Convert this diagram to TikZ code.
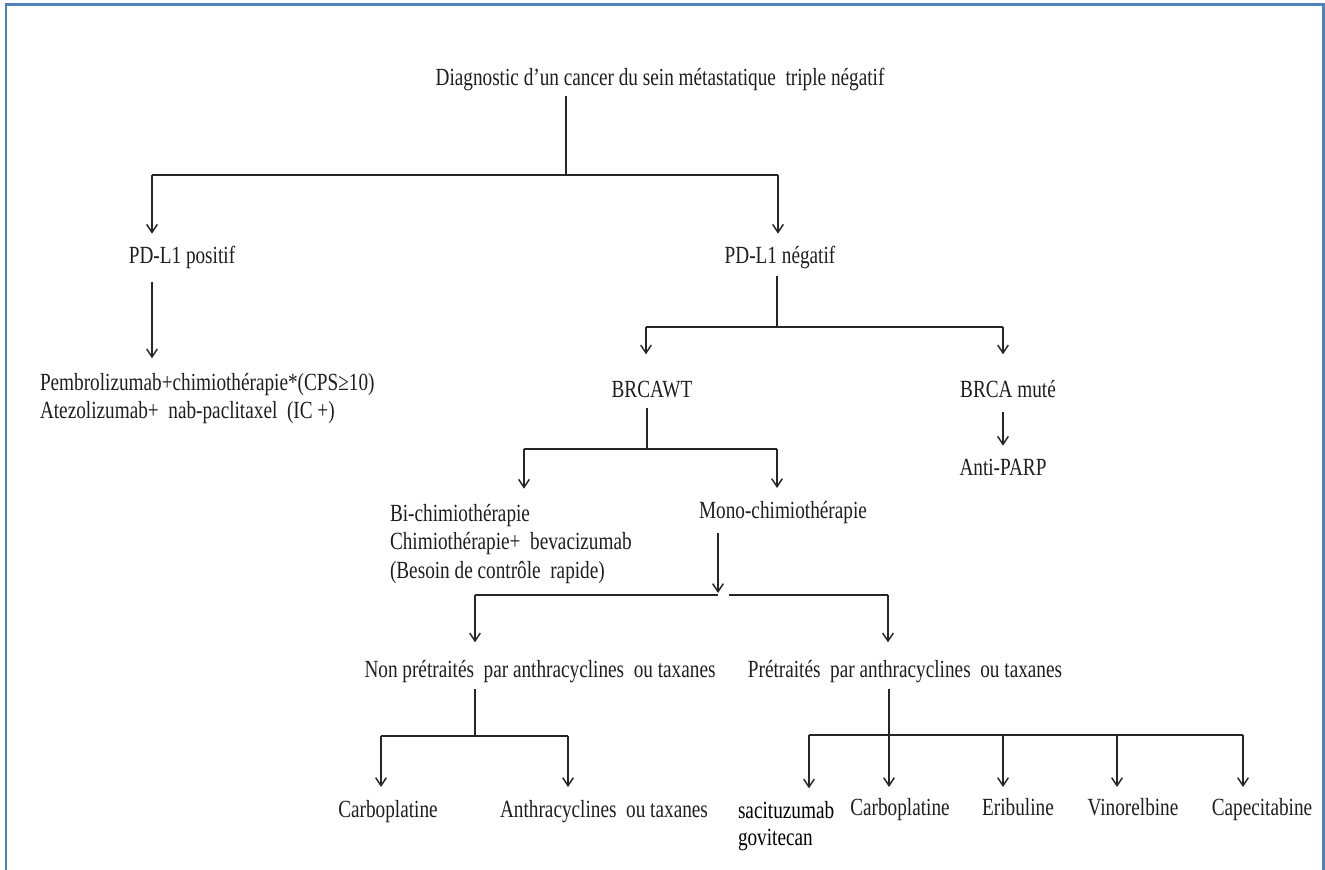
\documentclass[tikz,border=0pt]{standalone}
\usepackage{fontspec}
\setmainfont{Liberation Serif}
\newfontfamily\condfont{Liberation Serif}[FakeStretch=0.78]
\usetikzlibrary{arrows.meta}
\definecolor{framecol}{RGB}{79,129,189}
\definecolor{linecol}{RGB}{38,38,38}
\definecolor{txtcol}{RGB}{30,30,30}
\begin{document}
\begin{tikzpicture}[x=0.75pt,y=-0.75pt,
  lbl/.style={inner sep=0pt, outer sep=0pt, text=txtcol, font=\condfont\fontsize{18.5}{21.5}\selectfont, text height=12pt, text depth=3pt},
  mlbl/.style={inner sep=0pt, outer sep=0pt, text=txtcol, font=\condfont\fontsize{18.5}{21.5}\selectfont, align=left, anchor=north west},
  conn/.style={line width=1.1pt, draw=linecol},
  arr/.style={conn, -{Straight Barb[length=6pt,width=8pt]}}
]
\useasboundingbox (0,0) rectangle (1325,870);
% frame
\draw[line width=1.9pt, framecol] (6,875) -- (6,4.5) -- (1323.5,4.5) -- (1323.5,875);

% nodes
\node[lbl] (title) at (660,80) {Diagnostic d’un cancer du sein métastatique~ triple négatif};
\node[lbl] (pdp) at (182,257) {PD-L1 positif};
\node[lbl] (pdn) at (780,257) {PD-L1 négatif};
\node[mlbl] (pemb) at (40,373) {Pembrolizumab+chimiothérapie*(CPS≥10)\\Atezolizumab+~ nab-paclitaxel~ (IC +)};
\node[lbl] (brcawt) at (652,391) {BRCAWT};
\node[lbl] (brcam) at (1008,391) {BRCA muté};
\node[lbl] (parp) at (1003,469) {Anti-PARP};
\node[mlbl] (bichim) at (390,504) {Bi-chimiothérapie\\Chimiothérapie+~ bevacizumab\\(Besoin de contrôle~ rapide)};
\node[lbl] (mono) at (783,512) {Mono-chimiothérapie};
\node[lbl] (nonpre) at (540,671) {Non prétraités~ par anthracyclines~ ou taxanes};
\node[lbl] (pre) at (905,671) {Prétraités~ par anthracyclines~ ou taxanes};
\node[lbl] (carboA) at (388,811) {Carboplatine};
\node[lbl] (anthra) at (604,811) {Anthracyclines~ ou taxanes};
\node[mlbl, text=black, font=\condfont\fontsize{18.5}{20.5}\selectfont] (sacit) at (738,801) {sacituzumab\\govitecan};
\node[lbl] (carboB) at (900,809) {Carboplatine};
\node[lbl] (erib) at (1018,809) {Eribuline};
\node[lbl] (vino) at (1133,809) {Vinorelbine};
\node[lbl] (cape) at (1262,809) {Capecitabine};

% junction coordinates
\coordinate (j1) at (566,175);
\coordinate (b1l) at (152,175);
\coordinate (b1r) at (778,175);
\coordinate (j2) at (777,327);
\coordinate (b2l) at (646,327);
\coordinate (b2r) at (1003,327);
\coordinate (j3) at (647,449);
\coordinate (b3l) at (524,449);
\coordinate (b3r) at (777,449);
\coordinate (j4) at (718,595);
\coordinate (g4) at (729,595);
\coordinate (b4l) at (475,595);
\coordinate (b4r) at (888,595);
\coordinate (j5) at (475,736);
\coordinate (b5l) at (381,736);
\coordinate (b5r) at (568,736);
\coordinate (j6) at (889,735);
\coordinate (b6a) at (809,735);
\coordinate (b6c) at (1003,735);
\coordinate (b6d) at (1117,735);
\coordinate (b6e) at (1243,735);

% connectors
\draw[conn, shorten <=4.5pt] (j1 |- title.south) -- (j1);
\draw[conn] (b1l) -- (b1r);
\draw[arr, shorten >=10pt] (b1l) -- (b1l |- pdp.north);
\draw[arr, shorten >=10pt] (b1r) -- (b1r |- pdn.north);
\draw[arr, shorten <=11pt, shorten >=11pt] (b1l |- pdp.south) -- (b1l |- pemb.north);

\draw[conn, shorten <=7pt] (j2 |- pdn.south) -- (j2);
\draw[conn] (b2l) -- (b2r);
\draw[arr, shorten >=20pt] (b2l) -- (b2l |- brcawt.north);
\draw[arr, shorten >=20pt] (b2r) -- (b2r |- brcam.north);
\draw[arr, shorten <=8pt, shorten >=10pt] (parp.north |- brcam.south) -- (parp.north);

\draw[conn, shorten <=5pt] (j3 |- brcawt.south) -- (j3);
\draw[conn] (b3l) -- (b3r);
\draw[arr, shorten >=11.5pt] (b3l) -- (b3l |- bichim.north);
\draw[arr, shorten >=10.5pt] (b3r) -- (b3r |- mono.north);

\draw[arr, shorten <=8.5pt, shorten >=1.5pt] (j4 |- mono.south) -- (j4);
\draw[conn] (b4l) -- (j4);
\draw[conn] (g4) -- (b4r);
\draw[arr, shorten >=14pt] (b4l) -- (b4l |- nonpre.north);
\draw[arr, shorten >=14pt] (b4r) -- (b4r |- pre.north);

\draw[conn, shorten <=6pt] (j5 |- nonpre.south) -- (j5);
\draw[conn] (b5l) -- (b5r);
\draw[arr, shorten >=10.5pt] (b5l) -- (b5l |- carboA.north);
\draw[arr, shorten >=10.5pt] (b5r) -- (b5r |- anthra.north);

\draw[conn, shorten <=6pt] (j6 |- pre.south) -- (j6);
\draw[conn] (b6a) -- (b6e);
\draw[arr, shorten >=9.5pt] (b6a) -- (b6a |- sacit.north);
\draw[arr, shorten >=9pt] (j6) -- (j6 |- carboB.north);
\draw[arr, shorten >=9pt] (b6c) -- (b6c |- erib.north);
\draw[arr, shorten >=9pt] (b6d) -- (b6d |- vino.north);
\draw[arr, shorten >=9pt] (b6e) -- (b6e |- cape.north);
\end{tikzpicture}
\end{document}
